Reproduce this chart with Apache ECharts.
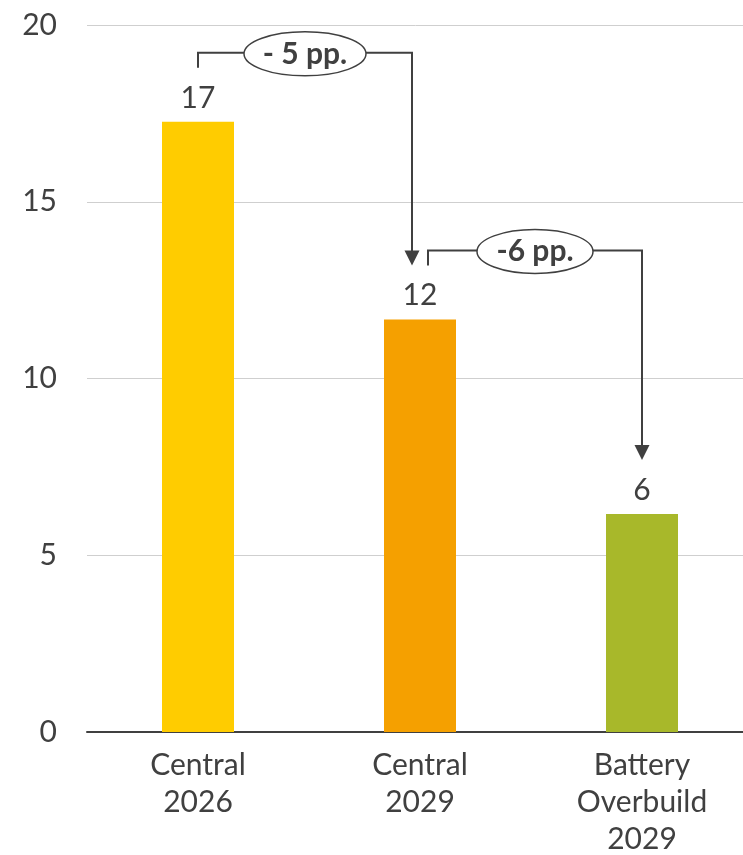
<!DOCTYPE html>
<html>
<head>
<meta charset="utf-8">
<script src="https://cdn.jsdelivr.net/npm/echarts@6/dist/echarts.min.js"></script>
<style>
  html, body { margin: 0; padding: 0; background: #fff; }
  #chart { width: 743px; height: 855px; }
</style>
</head>
<body>
<div id="chart"></div>
<script>
// Scenario categories and their values
const categories = ['Central\n2026', 'Central\n2029', 'Battery\nOverbuild\n2029'];
const values = [17.26, 11.67, 6.17];
const barColors = ['#FFCC00', '#F5A000', '#A8B82A'];
const yTicks = [0, 5, 10, 15, 20];
// Change call-outs between consecutive scenarios: [from index, to index, text]
const changes = [[0, 1, '- 5 pp.'], [1, 2, '-6 pp.']];

const FONT = 'Lato';
const TEXT = '#404040';
const chart = echarts.init(document.getElementById('chart'), null, { renderer: 'canvas' });

chart.setOption({
  animation: false,
  grid: { left: 87, width: 666, top: 25, bottom: 123, containLabel: false, outerBoundsMode: 'none' },
  xAxis: {
    type: 'category',
    data: categories,
    axisTick: { show: false },
    axisLine: { lineStyle: { color: TEXT, width: 2 } },
    axisLabel: { color: TEXT, fontFamily: FONT, fontSize: 30, lineHeight: 37, margin: 15 }
  },
  yAxis: {
    type: 'value',
    min: yTicks[0],
    max: yTicks[yTicks.length - 1],
    interval: 5,
    axisLine: { show: false },
    axisTick: { show: false },
    splitLine: { lineStyle: { color: '#CFCFCF', width: 1 } },
    axisLabel: { color: TEXT, fontFamily: FONT, fontSize: 30, margin: 30 }
  },
  series: [{
    type: 'bar',
    barWidth: 72,
    data: values.map((v, i) => ({ value: v, itemStyle: { color: barColors[i] } })),
    label: {
      show: true,
      position: 'top',
      distance: 9,
      color: TEXT,
      fontFamily: FONT,
      fontSize: 30,
      formatter: p => Math.round(p.value)
    }
  }]
});

// Draw bracket arrows with oval call-outs from the bar positions
function drawCallouts() {
  const elements = [];
  const px = (i, v) => chart.convertToPixel({ seriesIndex: 0 }, [i, v]);
  changes.forEach(([from, to, text], k) => {
    const a = px(from, values[from]);
    const b = px(to, values[to]);
    const x0 = a[0] + (k === 0 ? 0 : 8);
    const x1 = b[0] - (k === 0 ? 8 : 0);
    const yStart = a[1] - 54;
    const yLevel = yStart - 15;
    const yTip = b[1] - 54;
    elements.push({
      type: 'polyline',
      shape: { points: [[x0, yStart], [x0, yLevel], [x1, yLevel], [x1, yTip - 14]] },
      style: { stroke: TEXT, lineWidth: 2, fill: null },
      z: 10
    });
    elements.push({
      type: 'polygon',
      shape: { points: [[x1 - 7.5, yTip - 15], [x1 + 7.5, yTip - 15], [x1, yTip]] },
      style: { fill: TEXT },
      z: 10
    });
    const cx = (x0 + x1) / 2;
    elements.push({
      type: 'ellipse',
      shape: { cx: cx, cy: yLevel + 1, rx: k === 0 ? 61 : 58, ry: 22 },
      style: { fill: '#fff', stroke: TEXT, lineWidth: 1.5 },
      z: 11
    });
    elements.push({
      type: 'text',
      x: cx, y: yLevel + 1,
      style: {
        text: text, fill: TEXT, font: 'bold 30px Lato',
        align: 'center', verticalAlign: 'middle'
      },
      z: 12
    });
  });
  chart.setOption({ graphic: { elements: elements } });
}
drawCallouts();
</script>
</body>
</html>
